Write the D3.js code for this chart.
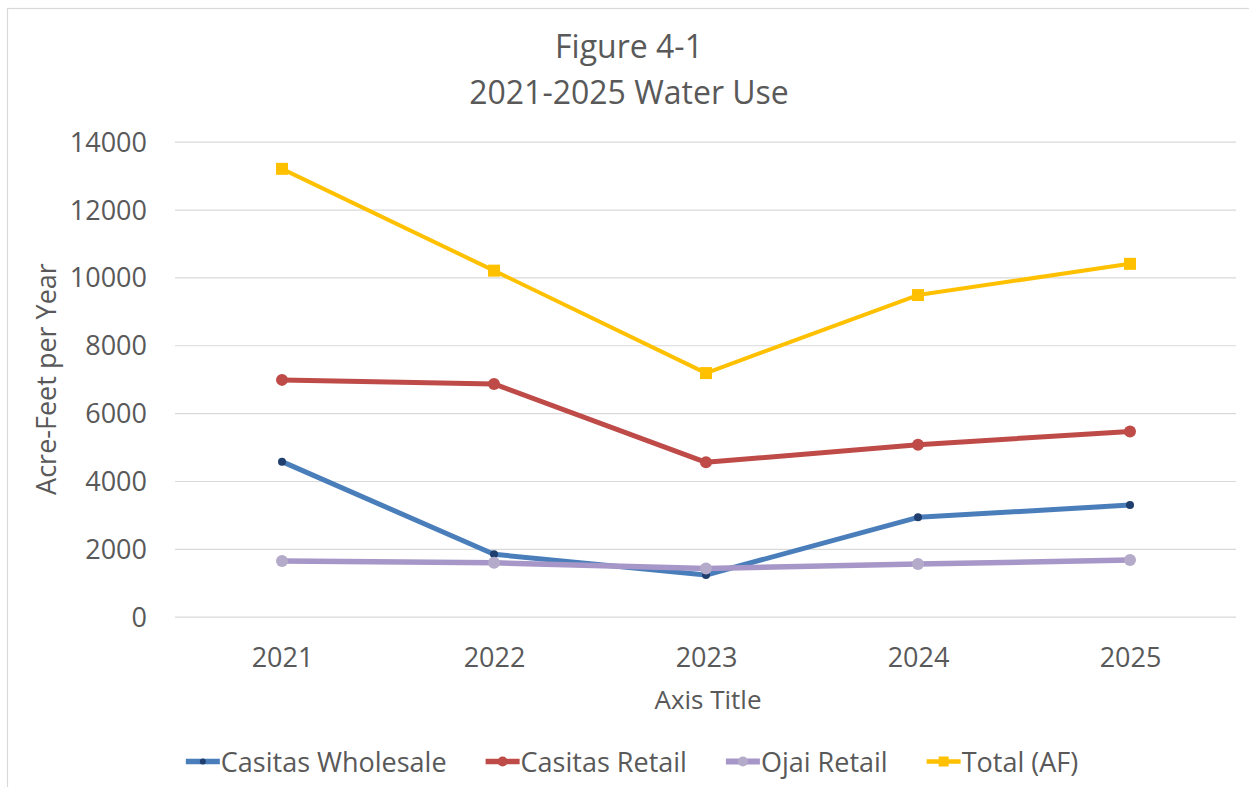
<!DOCTYPE html>
<html>
<head>
<meta charset="utf-8">
<script src="https://cdn.jsdelivr.net/npm/d3@7"></script>
<style>
  html, body { margin: 0; padding: 0; background: #ffffff; }
  svg { display: block; }
  text { font-family: "Open Sans", "Noto Sans", sans-serif; fill: #595959; }
</style>
</head>
<body>
<svg id="chart" width="1249" height="787"></svg>
<script>
const years = ["2021", "2022", "2023", "2024", "2025"];
const casitasWholesale = [4570, 1840, 1230, 2930, 3290];
const casitasRetail = [6980, 6860, 4550, 5070, 5460];
const ojaiRetail = [1640, 1590, 1420, 1550, 1670];
const totalAF = [13200, 10200, 7180, 9480, 10400];
const yTicks = [0, 2000, 4000, 6000, 8000, 10000, 12000, 14000];
const seriesNames = ["Casitas Wholesale", "Casitas Retail", "Ojai Retail", "Total (AF)"];
const titleLines = ["Figure 4-1", "2021-2025 Water Use"];
const xAxisTitle = "Axis Title";
const yAxisTitle = "Acre-Feet per Year";

const series = [
  { name: seriesNames[0], values: casitasWholesale, color: "#4A7EBB", marker: "circle", mColor: "#203F6E", mr: 4, lw: 5 },
  { name: seriesNames[1], values: casitasRetail, color: "#BE4B48", marker: "circle", mColor: "#BE4B48", mr: 6, lw: 5 },
  { name: seriesNames[2], values: ojaiRetail, color: "#A797C8", marker: "circle", mColor: "#B4AAC9", mr: 6, lw: 5.5 },
  { name: seriesNames[3], values: totalAF, color: "#FFC000", marker: "square", mColor: "#FFC000", mr: 6, lw: 4 }
];

const svg = d3.select("#chart");

// chart border
svg.append("rect")
  .attr("x", 7.5).attr("y", 8.5).attr("width", 1260).attr("height", 800)
  .attr("fill", "#ffffff").attr("stroke", "#D9D9D9").attr("stroke-width", 1.2);

const plotLeft = 175, plotRight = 1236, plotTop = 141.7, plotBottom = 616.7;

const x = d3.scalePoint().domain(years).range([plotLeft + 1, plotRight]).padding(0.5);
const y = d3.scaleLinear().domain([0, 14000]).range([plotBottom, plotTop]);

// gridlines + y tick labels via axis
const yAxis = d3.axisLeft(y).tickValues(yTicks).tickSize(-(plotRight - plotLeft)).tickPadding(28).tickFormat(d3.format("d"));
const gy = svg.append("g").attr("transform", `translate(${plotLeft},0)`).call(yAxis);
gy.select(".domain").remove();
gy.selectAll(".tick line").attr("stroke", "#D9D9D9").attr("stroke-width", 1.2);
gy.selectAll(".tick text").attr("font-size", 27).attr("fill", "#595959")
  .attr("font-family", "'Open Sans', sans-serif").attr("dy", "0.35em");

// x tick labels via axis
const xAxis = d3.axisBottom(x).tickSize(0).tickPadding(0);
const gx = svg.append("g").attr("transform", `translate(0,${plotBottom})`).call(xAxis);
gx.select(".domain").remove();
gx.selectAll(".tick text").attr("font-size", 27).attr("fill", "#595959")
  .attr("font-family", "'Open Sans', sans-serif").attr("dy", null).attr("y", 50);

// lines
const line = d3.line().x((d, i) => x(years[i])).y(d => y(d));
series.forEach(s => {
  svg.append("path").datum(s.values)
    .attr("d", line).attr("fill", "none")
    .attr("stroke", s.color).attr("stroke-width", s.lw)
    .attr("stroke-linejoin", "round").attr("stroke-linecap", "round");
  const g = svg.append("g");
  if (s.marker === "circle") {
    g.selectAll("circle").data(s.values).join("circle")
      .attr("cx", (d, i) => x(years[i])).attr("cy", d => y(d)).attr("r", s.mr)
      .attr("fill", s.mColor);
  } else {
    g.selectAll("rect").data(s.values).join("rect")
      .attr("x", (d, i) => x(years[i]) - s.mr).attr("y", d => y(d) - s.mr)
      .attr("width", s.mr * 2).attr("height", s.mr * 2).attr("fill", s.mColor);
  }
});

// title
svg.append("text").attr("x", 629).attr("y", 58).attr("text-anchor", "middle")
  .attr("font-size", 32).text(titleLines[0]);
svg.append("text").attr("x", 629).attr("y", 104).attr("text-anchor", "middle")
  .attr("font-size", 32).text(titleLines[1]);

// axis titles
svg.append("text").attr("x", 708).attr("y", 709).attr("text-anchor", "middle")
  .attr("font-size", 26).text(xAxisTitle);
svg.append("text").attr("transform", "translate(56,379) rotate(-90)")
  .attr("text-anchor", "middle").attr("font-size", 27).text(yAxisTitle);

// legend
const legend = svg.append("g");
const symW = 34, gap = 39, legendY = 761.5;
let items = [];
series.forEach(s => {
  const g = legend.append("g");
  g.append("line").attr("x1", 0).attr("x2", symW).attr("y1", 0).attr("y2", 0)
    .attr("stroke", s.color).attr("stroke-width", s.lw + 0.5);
  if (s.marker === "circle") {
    g.append("circle").attr("cx", symW / 2).attr("cy", 0).attr("r", s.mr - 1).attr("fill", s.mColor);
  } else {
    g.append("rect").attr("x", symW / 2 - 5).attr("y", -5).attr("width", 10).attr("height", 10).attr("fill", s.mColor);
  }
  const t = g.append("text").attr("x", symW + 1).attr("y", 10).attr("font-size", 27).text(s.name);
  items.push({ g, w: symW + 1 + t.node().getComputedTextLength() });
});
const totalW = d3.sum(items, d => d.w) + gap * (items.length - 1);
let cx = 632 - totalW / 2;
items.forEach(it => {
  it.g.attr("transform", `translate(${cx},${legendY})`);
  cx += it.w + gap;
});
</script>
</body>
</html>
